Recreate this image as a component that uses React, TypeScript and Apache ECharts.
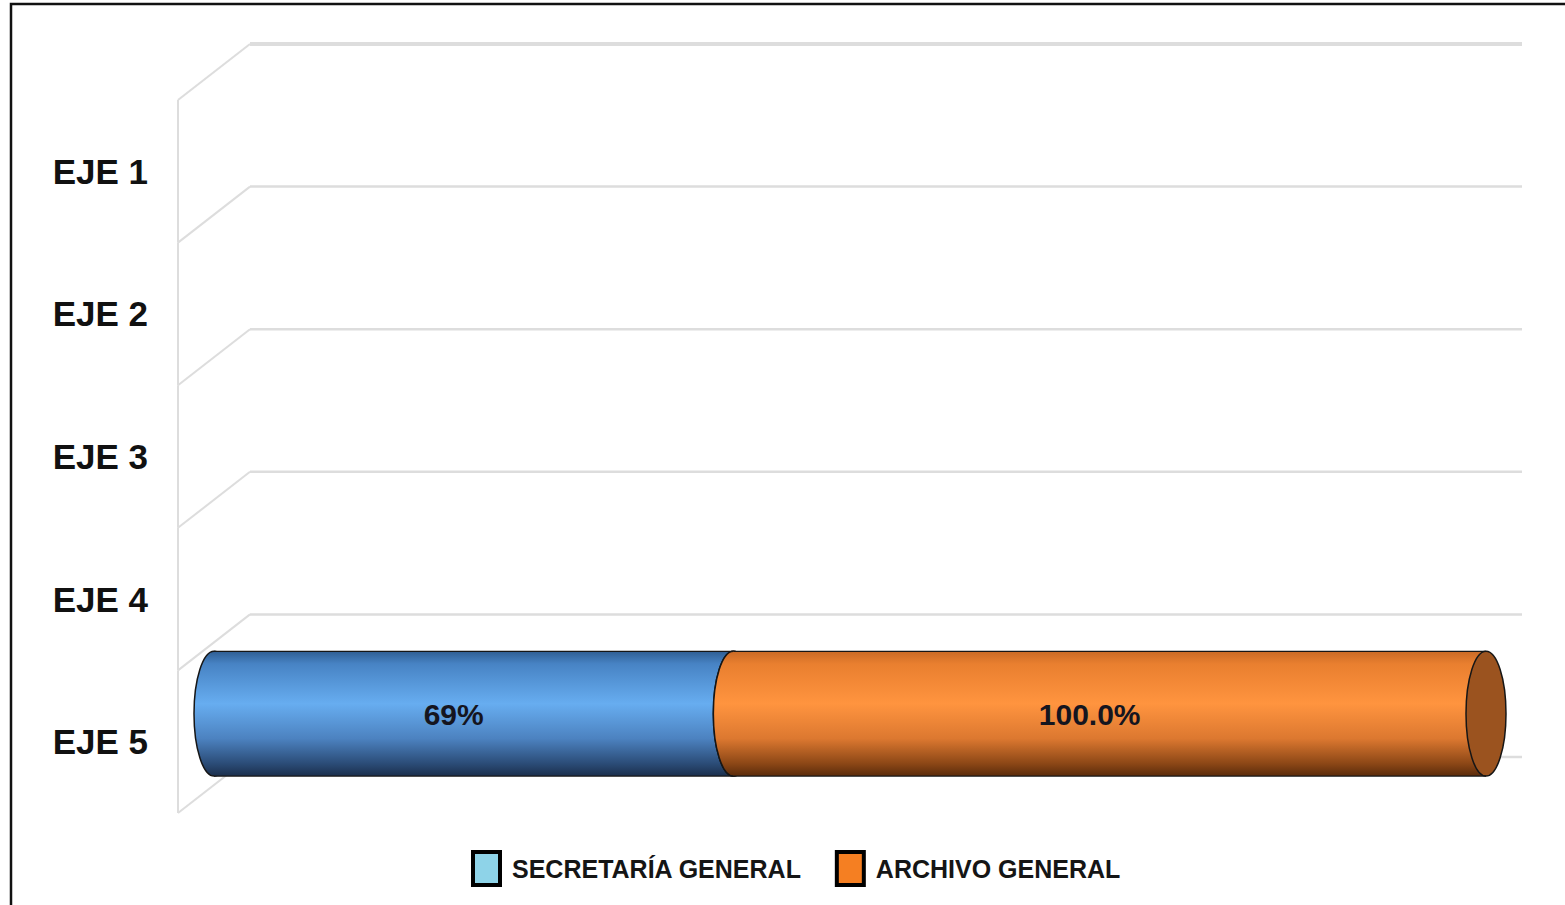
import React, { useEffect, useRef } from "react";
import * as echarts from "echarts";

const categories = ["EJE 1", "EJE 2", "EJE 3", "EJE 4", "EJE 5"];
const secretariaValues: (number | null)[] = [null, null, null, null, 69];
const archivoValues: (number | null)[] = [null, null, null, null, 100];
const seriesNames = ["SECRETARÍA GENERAL", "ARCHIVO GENERAL"];
const labelDecimals = [0, 1];

const seriesValues = [secretariaValues, archivoValues];
const totals = categories.map((_, i) =>
  seriesValues.reduce((a, arr) => a + (arr[i] ?? 0), 0)
);
const axisMax = Math.max(...totals);

const stackedData = seriesValues.map((vals, s) =>
  vals
    .map((v, i) => {
      if (v == null) return null;
      let base = 0;
      for (let k = 0; k < s; k++) base += seriesValues[k][i] ?? 0;
      return [base, base + v, i, v];
    })
    .filter((d) => d !== null) as number[][]
);

const FONT = "'Liberation Sans', Arial, sans-serif";
const DX = 72;
const DY = -56;

const bodyStops = [
  [
    { offset: 0, color: "#2f5e93" },
    { offset: 0.1, color: "#4783c4" },
    { offset: 0.42, color: "#67adf0" },
    { offset: 0.7, color: "#4c82c0" },
    { offset: 0.9, color: "#2b4c77" },
    { offset: 1, color: "#1b2f4c" },
  ],
  [
    { offset: 0, color: "#c96a26" },
    { offset: 0.1, color: "#e97f2f" },
    { offset: 0.42, color: "#ff943f" },
    { offset: 0.7, color: "#dc7830" },
    { offset: 0.9, color: "#8c4716" },
    { offset: 1, color: "#5a2b0b" },
  ],
];
const capColors = ["#2f5e93", "#9b531f"];
const legendColors = ["#8ed3e8", "#f57f22"];
const OUTLINE = "#161616";

function cylinderRenderer(s: number) {
  return (params: any, api: any) => {
    const c = api.value(2);
    const a = api.coord([api.value(0), c]);
    const b = api.coord([api.value(1), c]);
    const band = api.size([0, 1])[1];
    const h = band * 0.875;
    const ry = h / 2;
    const rx = 20;
    const x0 = a[0] + DX / 2;
    const x1 = b[0] + DX / 2;
    const cy = a[1] + DY / 2;
    const grad = () => new echarts.graphic.LinearGradient(0, 0, 0, 1, bodyStops[s]);
    const v = api.value(3);
    const text = v.toFixed(labelDecimals[s]) + "%";
    return {
      type: "group",
      children: [
        {
          type: "ellipse",
          shape: { cx: x0, cy, rx, ry },
          style: { fill: grad(), stroke: OUTLINE, lineWidth: 1.5 },
        },
        {
          type: "rect",
          shape: { x: x0, y: cy - ry, width: x1 - x0, height: h },
          style: { fill: grad() },
        },
        {
          type: "ellipse",
          shape: { cx: x1, cy, rx, ry },
          style: { fill: capColors[s], stroke: OUTLINE, lineWidth: 1.5 },
        },
        {
          type: "line",
          shape: { x1: x0, y1: cy - ry, x2: x1, y2: cy - ry },
          style: { stroke: OUTLINE, lineWidth: 1.2 },
        },
        {
          type: "line",
          shape: { x1: x0, y1: cy + ry, x2: x1, y2: cy + ry },
          style: { stroke: OUTLINE, lineWidth: 1.2 },
        },
        {
          type: "text",
          style: {
            text,
            x: (x0 + x1) / 2 - 20,
            y: cy + 1,
            align: "center",
            verticalAlign: "middle",
            font: `bold 30px ${FONT}`,
            fill: "#15151f",
          },
        },
      ],
    };
  };
}

function frameRenderer(params: any, api: any) {
  const i = api.value(1);
  const c = api.coord([0, i]);
  const right = api.coord([axisMax, i])[0];
  const band = api.size([0, 1])[1];
  const top = c[1] - band / 2;
  const bottom = c[1] + band / 2;
  const left = c[0];
  const col = "#dddddd";
  const edge = (y: number, w: number) => [
    {
      type: "line",
      shape: { x1: left + DX, y1: y + DY, x2: right + DX, y2: y + DY },
      style: { stroke: col, lineWidth: w },
    },
    {
      type: "line",
      shape: { x1: left, y1: y, x2: left + DX, y2: y + DY },
      style: { stroke: col, lineWidth: 2 },
    },
  ];
  const children: any[] = [
    ...edge(top, i === 0 ? 4 : 2.5),
    {
      type: "line",
      shape: { x1: left, y1: top, x2: left, y2: bottom },
      style: { stroke: col, lineWidth: 2 },
    },
  ];
  if (i === categories.length - 1) children.push(...edge(bottom, 2.5));
  return { type: "group", children };
}

export default function App() {
  const ref = useRef<HTMLDivElement>(null);
  useEffect(() => {
    if (!ref.current) return;
    const chart = echarts.init(ref.current, undefined, { renderer: "svg" });
    chart.setOption({
      animation: false,
      backgroundColor: "#ffffff",
      graphic: [
        {
          type: "rect",
          shape: { x: 11, y: 4, width: 1700, height: 1000 },
          style: { fill: "none", stroke: "#111111", lineWidth: 2.5 },
          z: 100,
        },
      ],
      grid: { left: 178, right: 115, top: 100, bottom: 92 },
      xAxis: {
        type: "value",
        min: 0,
        max: axisMax,
        show: false,
        splitLine: { show: false },
      },
      yAxis: {
        type: "category",
        data: categories,
        inverse: true,
        axisLine: { show: false },
        axisTick: { show: false },
        splitLine: { show: false },
        axisLabel: {
          margin: 30,
          color: "#111111",
          fontFamily: FONT,
          fontWeight: "bold",
          fontSize: 35,
        },
      },
      legend: {
        left: 466,
        top: 845,
        itemWidth: 27,
        itemHeight: 33,
        itemGap: 33,
        icon: "rect",
        textStyle: {
          color: "#151515",
          fontFamily: FONT,
          fontWeight: "bold",
          fontSize: 25,
          padding: [6, 0, 0, 7],
        },
        data: seriesNames.map((n, s) => ({
          name: n,
          itemStyle: { color: legendColors[s], borderColor: "#000000", borderWidth: 4 },
        })),
      },
      series: [
        {
          type: "custom",
          name: "frame",
          coordinateSystem: "cartesian2d",
          renderItem: frameRenderer,
          encode: { x: 0, y: 1 },
          data: categories.map((_, i) => [0, i]),
          silent: true,
          z: 1,
        },
        ...seriesNames.map((n, s) => ({
          type: "custom",
          name: n,
          coordinateSystem: "cartesian2d",
          renderItem: cylinderRenderer(s),
          encode: { x: [0, 1], y: 2 },
          data: stackedData[s],
          itemStyle: { color: legendColors[s] },
          z: 2 + s,
        })),
      ],
    });
    return () => chart.dispose();
  }, []);
  return (
    <div
      ref={ref}
      style={{ position: "fixed", left: 0, top: 0, width: 1565, height: 905 }}
    />
  );
}
